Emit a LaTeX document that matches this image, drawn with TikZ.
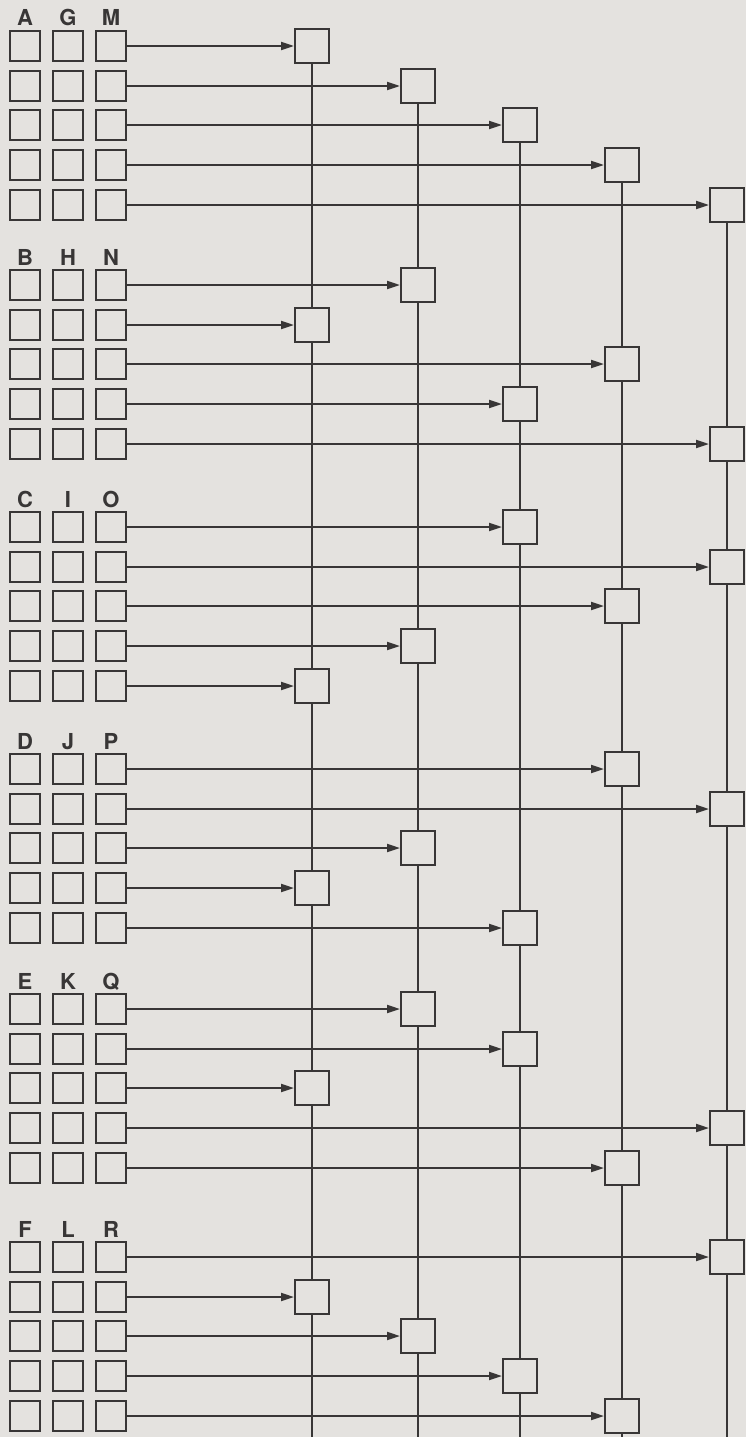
\documentclass[tikz,border=0pt]{standalone}
\usepackage{fontspec}
\setmainfont{TeX Gyre Heros}
\usetikzlibrary{arrows.meta}
\definecolor{paper}{RGB}{228,226,223}
\definecolor{ink}{RGB}{56,54,54}
\begin{document}
\begin{tikzpicture}[x=1pt,y=-1pt,
  cell/.style={draw=ink, line width=2pt, minimum size=30pt, inner sep=0pt, fill=paper},
  hub/.style={draw=ink, line width=2pt, minimum size=34pt, inner sep=0pt, fill=paper},
  lab/.style={font=\fontsize{22}{22}\selectfont\bfseries, text=ink, anchor=base, inner sep=0pt},
  feed/.style={draw=ink, line width=2pt, -{Triangle[length=13pt,width=8pt]}},
  bus/.style={draw=ink, line width=2pt}]
\fill[paper] (0,0) rectangle (746,1437);
\useasboundingbox (0,0) rectangle (746,1437);
% column x positions of the hub boxes
\def\hx#1{\ifcase#1\or312\or418\or520\or622\or727\fi}
% groups: index / first row y / mapping row->hub column / letters
\foreach \g/\ys/\m/\la/\lb/\lc in {
  1/46/{1,2,3,4,5}/A/G/M,
  2/285/{2,1,4,3,5}/B/H/N,
  3/527/{3,5,4,2,1}/C/I/O,
  4/769/{4,5,2,1,3}/D/J/P,
  5/1009/{2,3,1,5,4}/E/K/Q,
  6/1257/{5,1,2,3,4}/F/L/R} {
  \pgfmathsetmacro{\ly}{\ys-20}
  \node[lab] (L\g-1) at (25,\ly) {\la};
  \node[lab] (L\g-2) at (68,\ly) {\lb};
  \node[lab] (L\g-3) at (111,\ly) {\lc};
  \foreach \k [count=\r] in \m {
    \pgfmathtruncatemacro{\yy}{round(\ys+(\r-1)*39.7)}
    \node[cell] (s\g-\r-1) at (25,\yy) {};
    \node[cell] (s\g-\r-2) at (68,\yy) {};
    \node[cell] (s\g-\r-3) at (111,\yy) {};
    \node[hub] (R\g-\k) at (\hx{\k},\yy) {};
    \draw[feed] (s\g-\r-3) -- (R\g-\k);
  }
}
% vertical buses
\foreach \k in {1,...,5} {
  \coordinate (bot\k) at (\hx{\k},1440);
  \draw[bus] (R1-\k) -- (R2-\k) -- (R3-\k) -- (R4-\k) -- (R5-\k) -- (R6-\k) -- (bot\k);
}
\end{tikzpicture}
\end{document}
